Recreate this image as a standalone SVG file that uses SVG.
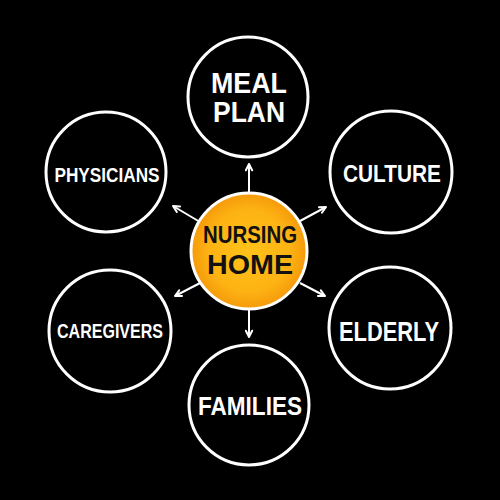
<svg xmlns="http://www.w3.org/2000/svg" width="500" height="500" viewBox="0 0 500 500">
<style>
.ring{fill:#000;stroke:#fff;stroke-width:3}
.lbl{font-family:"Liberation Sans",Arial,sans-serif;font-weight:bold;fill:#fff;text-anchor:middle}
.dark{fill:#111}
.conn{stroke:#fff;stroke-width:2;fill:none;marker-end:url(#arr)}
</style>
<defs>
<radialGradient id="og" cx="50%" cy="50%" r="50%">
<stop offset="0" stop-color="#FFC21A"/>
<stop offset="0.7" stop-color="#FDB313"/>
<stop offset="1" stop-color="#F59A0A"/>
</radialGradient>
<marker id="arr" viewBox="0 0 10 10" refX="9" refY="5" markerWidth="9" markerHeight="9" orient="auto" markerUnits="userSpaceOnUse">
<path d="M2,1.5 L9,5 L2,8.5" fill="none" stroke="#fff" stroke-width="2.2" stroke-linecap="round" stroke-linejoin="round"/>
</marker>
</defs>
<rect width="500" height="500" fill="#000"/>
<g id="connectors">
<line class="conn" x1="249" y1="193" x2="249" y2="164"/>
<line class="conn" x1="249" y1="310" x2="249" y2="337"/>
<line class="conn" x1="200" y1="222" x2="173" y2="206"/>
<line class="conn" x1="300" y1="221" x2="326" y2="207"/>
<line class="conn" x1="202" y1="282" x2="175" y2="296"/>
<line class="conn" x1="300" y1="283" x2="325" y2="296"/>
</g>
<g id="nursing-home">
<circle cx="249" cy="251" r="58" fill="url(#og)" stroke="#fff" stroke-width="3"/>
<text class="lbl dark" x="250" y="243" font-size="24" textLength="94" lengthAdjust="spacingAndGlyphs">NURSING</text>
<text class="lbl dark" x="250" y="274" font-size="28" textLength="86" lengthAdjust="spacingAndGlyphs">HOME</text>
</g>
<g id="meal-plan">
<circle class="ring" cx="248" cy="97" r="60"/>
<text class="lbl" x="249" y="93" font-size="29" textLength="76" lengthAdjust="spacingAndGlyphs">MEAL</text>
<text class="lbl" x="249" y="122" font-size="29" textLength="72" lengthAdjust="spacingAndGlyphs">PLAN</text>
</g>
<g id="physicians">
<circle class="ring" cx="106" cy="172" r="60"/>
<text class="lbl" x="107" y="182" font-size="20" textLength="105" lengthAdjust="spacingAndGlyphs">PHYSICIANS</text>
</g>
<g id="culture">
<circle class="ring" cx="391" cy="172" r="61"/>
<text class="lbl" x="392" y="182" font-size="24" textLength="98" lengthAdjust="spacingAndGlyphs">CULTURE</text>
</g>
<g id="caregivers">
<circle class="ring" cx="110" cy="331" r="61"/>
<text class="lbl" x="110" y="338" font-size="20" textLength="106" lengthAdjust="spacingAndGlyphs">CAREGIVERS</text>
</g>
<g id="elderly">
<circle class="ring" cx="390" cy="328" r="61"/>
<text class="lbl" x="389" y="341" font-size="28" textLength="100" lengthAdjust="spacingAndGlyphs">ELDERLY</text>
</g>
<g id="families">
<circle class="ring" cx="249" cy="405" r="60"/>
<text class="lbl" x="250" y="415" font-size="25" textLength="104" lengthAdjust="spacingAndGlyphs">FAMILIES</text>
</g>
</svg>
